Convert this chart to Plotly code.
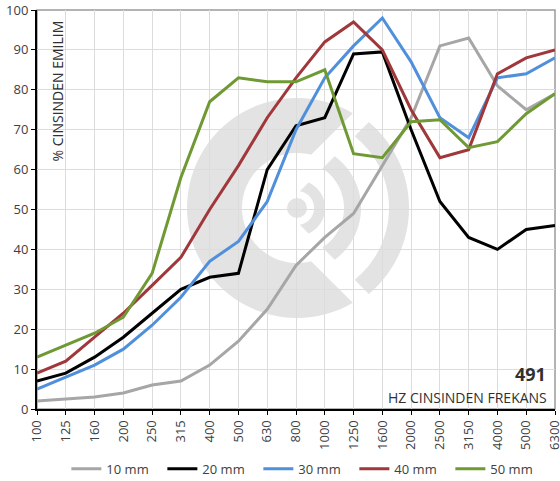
import math
import plotly.graph_objects as go

freqs = ["100", "125", "160", "200", "250", "315", "400", "500", "630", "800",
         "1000", "1250", "1600", "2000", "2500", "3150", "4000", "5000", "6300"]

mm10 = [2, 2.5, 3, 4, 6, 7, 11, 17, 25, 36, 43, 49, 61, 73, 91, 93, 81, 75, 79]
mm20 = [7, 9, 13, 18, 24, 30, 33, 34, 60, 71, 73, 89, 89.5, 70, 52, 43, 40, 45, 46]
mm30 = [5, 8, 11, 15, 21, 28, 37, 42, 52, 70, 83, 91, 98, 87, 73, 68, 83, 84, 88]
mm40 = [9, 12, 18, 24, 31, 38, 50, 61, 73, 83, 92, 97, 90, 75, 63, 65, 84, 88, 90]
mm50 = [13, 16, 19, 23, 34, 58, 77, 83, 82, 82, 85, 64, 63, 72, 72.5, 65.5, 67, 74, 79]

series_names = ["10 mm", "20 mm", "30 mm", "40 mm", "50 mm"]
series_vals = [mm10, mm20, mm30, mm40, mm50]
colors = ["#a6a6a6", "#000000", "#4f8fdb", "#a0373a", "#6f9a33"]

W, H = 560, 481
L, T = 37, 10
PW, PH = 518, 399
R = W - L - PW
B = H - T - PH

fig = go.Figure()
for name, vals, col in zip(series_names, series_vals, colors):
    fig.add_trace(go.Scatter(x=freqs, y=vals, name=name, mode="lines",
                             line=dict(color=col, width=3)))

# ---- watermark logo (decoration), in pixel coords ----
CX, CY = 297, 208


def to_paper(px, py):
    return (px - L) / PW, (T + PH - py) / PH


def pt(r, deg):
    a = math.radians(deg)
    return to_paper(CX + r * math.cos(a), CY - r * math.sin(a))


def arc_pts(r, a0, a1, n=60):
    return [pt(r, a0 + (a1 - a0) * i / n) for i in range(n + 1)]


def path_from(pts):
    s = "M %.5f %.5f " % pts[0]
    for p in pts[1:]:
        s += "L %.5f %.5f " % p
    return s + "Z"


def cut_angle(r, off):
    return 45 + math.degrees(math.asin(max(-1, min(1, off / (r * math.sqrt(2))))))


shapes = []
wm = "#e3e3e3"
ro, ri, off = 110, 55, 39
ao, ai = cut_angle(ro, off), cut_angle(ri, off)
pts = arc_pts(ro, ao, 360 - ao) + arc_pts(ri, 360 - ai, ai)
shapes.append(dict(type="path", path=path_from(pts), xref="paper", yref="paper",
                   fillcolor=wm, line=dict(width=0), layer="below"))
for ro, ri in [(112, 92), (64, 47), (28, 17)]:
    ao = cut_angle(ro, 14)
    ai = cut_angle(ri, 14)
    pts = arc_pts(ro, -ao, ao) + arc_pts(ri, ai, -ai)
    shapes.append(dict(type="path", path=path_from(pts), xref="paper", yref="paper",
                       fillcolor=wm, line=dict(width=0), layer="below"))
x0, y0 = to_paper(CX - 10, CY + 10)
x1, y1 = to_paper(CX + 10, CY - 10)
shapes.append(dict(type="circle", xref="paper", yref="paper", x0=x0, y0=y0, x1=x1, y1=y1,
                   fillcolor=wm, line=dict(width=0), layer="below"))
shapes.append(dict(type="rect", xref="paper", yref="paper", x0=0, y0=0, x1=1, y1=1,
                   line=dict(color="#9a9a9a", width=1.5), layer="below"))

font_family = "Open Sans, Noto Sans, sans-serif"

fig.update_layout(
    width=W, height=H,
    margin=dict(l=L, r=R, t=T, b=B, autoexpand=False),
    paper_bgcolor="white", plot_bgcolor="white",
    font=dict(family=font_family, size=13, color="#404040"),
    shapes=shapes,
    showlegend=True,
    legend=dict(orientation="h", x=0.52, xanchor="center", y=-0.15, yanchor="middle",
                font=dict(size=13, color="#404040"), entrywidth=51, entrywidthmode="pixels",
                itemwidth=30, bgcolor="rgba(0,0,0,0)"),
    annotations=[
        dict(text="% CINSINDEN EMILIM", textangle=-90, xref="paper", yref="paper",
             x=(57 - L) / PW, y=(T + PH - 19) / PH, xanchor="center", yanchor="top",
             showarrow=False, font=dict(size=14, color="#303030")),
        dict(text="<b>491</b>", xref="paper", yref="paper",
             x=(548 - L) / PW, y=(T + PH - 374) / PH, xanchor="right", yanchor="middle",
             showarrow=False, font=dict(size=18, color="#303030")),
        dict(text="HZ CINSINDEN FREKANS", xref="paper", yref="paper",
             x=(549 - L) / PW, y=(T + PH - 397) / PH, xanchor="right", yanchor="middle",
             showarrow=False, font=dict(size=14, color="#303030")),
    ],
)

fig.update_xaxes(type="category", range=[0, len(freqs) - 1], tickangle=-90,
                 automargin=False,
                 showgrid=True, gridcolor="#dcdcdc", gridwidth=1,
                 showline=True, linecolor="#000000", linewidth=2,
                 ticks="outside", ticklen=4, tickcolor="#000000",
                 tickfont=dict(size=13, color="#404040"), zeroline=False)
fig.update_yaxes(range=[0, 100], dtick=10, automargin=False,
                 showgrid=True, gridcolor="#dcdcdc", gridwidth=1,
                 showline=True, linecolor="#000000", linewidth=2,
                 ticks="outside", ticklen=4, tickcolor="#000000",
                 tickfont=dict(size=13, color="#404040"), zeroline=False)

fig.write_html("out.html", config={"displayModeBar": False},
               post_script="document.body.style.margin='0';document.body.style.overflow='hidden';")
